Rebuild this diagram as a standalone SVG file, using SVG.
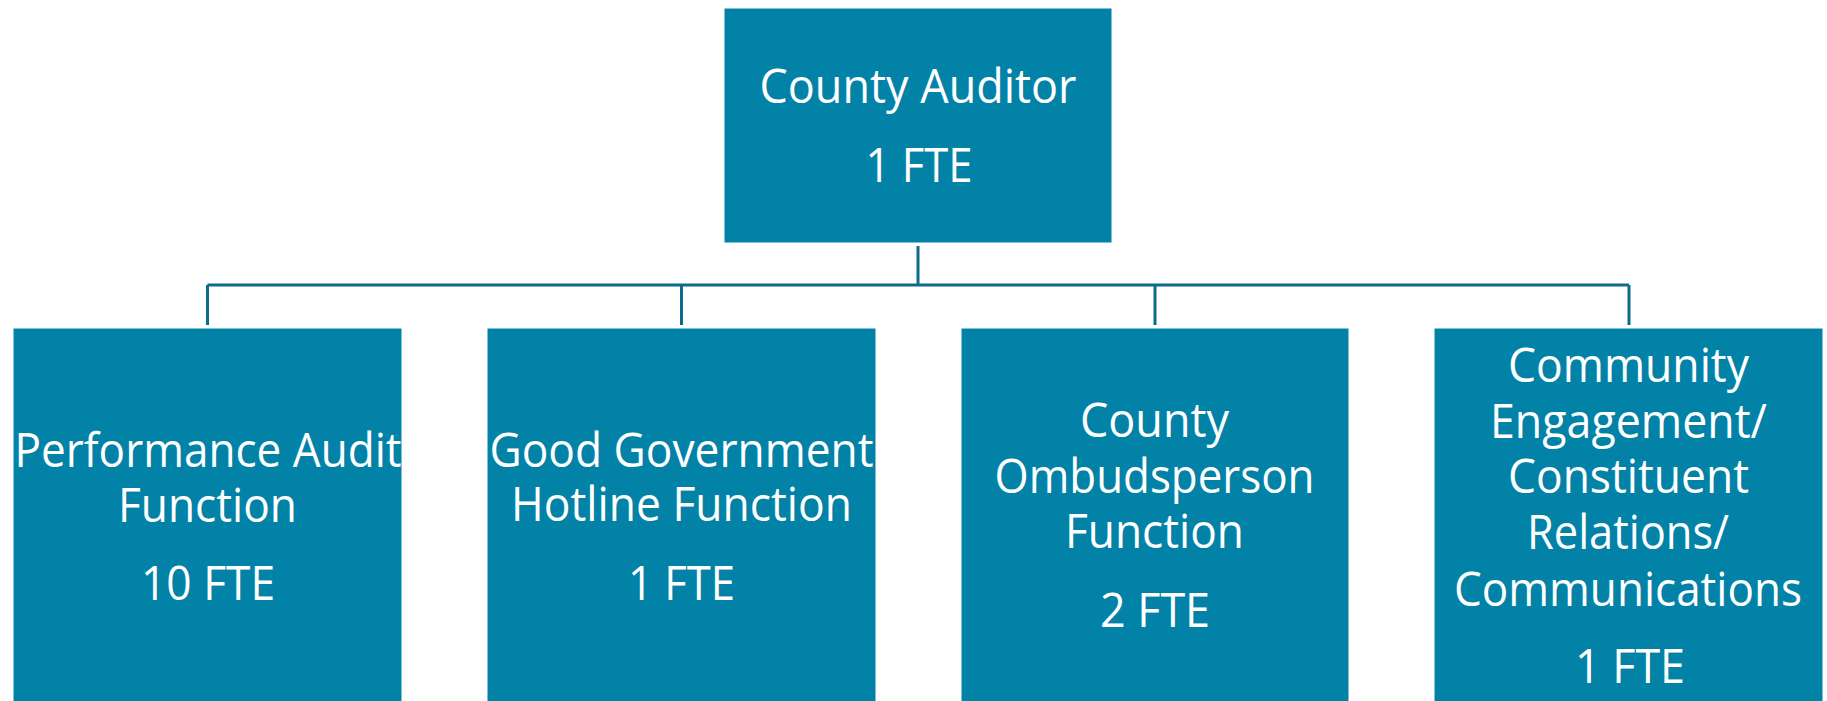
<svg xmlns="http://www.w3.org/2000/svg" width="1827" height="701" viewBox="0 0 1827 701">
  <style>
    .box { fill: #0382A8; stroke: #ffffff; stroke-width: 1; }
    .lbl { font-family: "Open Sans", "Noto Sans", "DejaVu Sans", sans-serif; font-size: 47px; fill: #ffffff; text-anchor: middle; }
    .conn { fill: none; stroke: #0D6C8B; stroke-width: 3; }
  </style>
  <rect x="0" y="0" width="1827" height="701" fill="#ffffff"/>
  <g id="connectors">
    <path class="conn" d="M918 246 V285"/>
    <path class="conn" d="M207.5 285 H1629"/>
    <path class="conn" d="M207.5 285 V325"/>
    <path class="conn" d="M681.5 285 V325"/>
    <path class="conn" d="M1155 285 V325"/>
    <path class="conn" d="M1629 285 V325"/>
  </g>
  <g id="county-auditor">
    <rect class="box" x="724" y="8" width="388" height="235"/>
    <text class="lbl" x="918" y="103" textLength="317" lengthAdjust="spacingAndGlyphs">County Auditor</text>
    <text class="lbl" x="919" y="182" textLength="107" lengthAdjust="spacingAndGlyphs">1 FTE</text>
  </g>
  <g id="performance-audit">
    <rect class="box" x="13" y="328" width="389" height="380"/>
    <text class="lbl" x="208" y="466.5" textLength="387" lengthAdjust="spacingAndGlyphs">Performance Audit</text>
    <text class="lbl" x="207.5" y="522" textLength="179" lengthAdjust="spacingAndGlyphs">Function</text>
    <text class="lbl" x="208" y="600" textLength="134" lengthAdjust="spacingAndGlyphs">10 FTE</text>
  </g>
  <g id="good-government">
    <rect class="box" x="487" y="328" width="389" height="380"/>
    <text class="lbl" x="681.5" y="466.5" textLength="384" lengthAdjust="spacingAndGlyphs">Good Government</text>
    <text class="lbl" x="681.5" y="521" textLength="341" lengthAdjust="spacingAndGlyphs">Hotline Function</text>
    <text class="lbl" x="681.5" y="600" textLength="107" lengthAdjust="spacingAndGlyphs">1 FTE</text>
  </g>
  <g id="county-ombudsperson">
    <rect class="box" x="961" y="328" width="388" height="380"/>
    <text class="lbl" x="1154.5" y="437" textLength="149" lengthAdjust="spacingAndGlyphs">County</text>
    <text class="lbl" x="1154.5" y="492.5" textLength="320" lengthAdjust="spacingAndGlyphs">Ombudsperson</text>
    <text class="lbl" x="1154.5" y="548" textLength="179" lengthAdjust="spacingAndGlyphs">Function</text>
    <text class="lbl" x="1155" y="627" textLength="110" lengthAdjust="spacingAndGlyphs">2 FTE</text>
  </g>
  <g id="community-engagement">
    <rect class="box" x="1434" y="328" width="389" height="380"/>
    <text class="lbl" x="1628.5" y="382" textLength="241" lengthAdjust="spacingAndGlyphs">Community</text>
    <text class="lbl" x="1628.5" y="437.5" textLength="277" lengthAdjust="spacingAndGlyphs">Engagement/</text>
    <text class="lbl" x="1628.5" y="493" textLength="241" lengthAdjust="spacingAndGlyphs">Constituent</text>
    <text class="lbl" x="1628" y="548.5" textLength="202" lengthAdjust="spacingAndGlyphs">Relations/</text>
    <text class="lbl" x="1628" y="605.5" textLength="348" lengthAdjust="spacingAndGlyphs">Communications</text>
    <text class="lbl" x="1630" y="683" textLength="110" lengthAdjust="spacingAndGlyphs">1 FTE</text>
  </g>
</svg>
